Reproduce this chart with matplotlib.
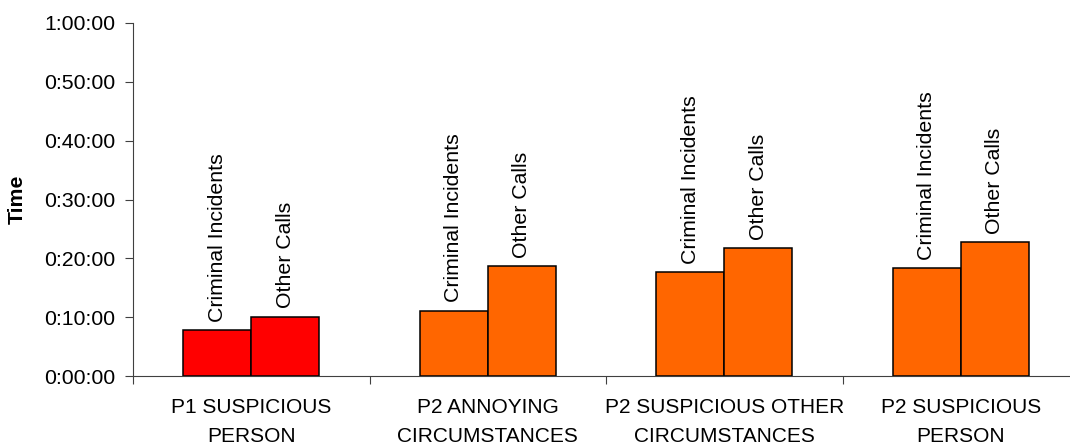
import matplotlib.pyplot as plt
from matplotlib.ticker import FuncFormatter, FixedLocator

plt.rcParams['font.family'] = ['Liberation Sans', 'DejaVu Sans']

# Data (minutes)
categories = ["P1 SUSPICIOUS\nPERSON", "P2 ANNOYING\nCIRCUMSTANCES",
              "P2 SUSPICIOUS OTHER\nCIRCUMSTANCES", "P2 SUSPICIOUS\nPERSON"]
criminal = [7.8, 11.1, 17.6, 18.3]
other = [10.1, 18.7, 21.7, 22.7]
bar_colors = ["#FF0000", "#FF6600", "#FF6600", "#FF6600"]
series_labels = ["Criminal Incidents", "Other Calls"]

fig = plt.figure(figsize=(10.7, 4.45), dpi=100)
ax = fig.add_axes([133 / 1070, 69 / 445, 946 / 1070, 353 / 445])

x = list(range(len(categories)))
w = 0.287
b1 = ax.bar([i - w / 2 for i in x], criminal, w, color=bar_colors,
            edgecolor="black", linewidth=1.1)
b2 = ax.bar([i + w / 2 for i in x], other, w, color=bar_colors,
            edgecolor="black", linewidth=1.1)

# rotated series labels above bars
for bars, name in zip([b1, b2], series_labels):
    for r in bars:
        ax.annotate(name, (r.get_x() + r.get_width() / 2, r.get_height()),
                    xytext=(0, 6), textcoords="offset points",
                    rotation=90, ha="center", va="bottom", fontsize=15.3)

ax.set_xlim(-0.5, len(categories) - 0.5)
ax.set_ylim(0, 60)
ax.set_yticks(range(0, 61, 10))
ax.yaxis.set_major_formatter(FuncFormatter(
    lambda v, p: "%d:%02d:%02d" % (int(v) // 60, int(v) % 60, 0)))

ax.set_xticks(x)
ax.set_xticklabels(categories, fontsize=15, linespacing=1.65)
ax.xaxis.set_minor_locator(FixedLocator([i - 0.5 for i in range(len(categories) + 1)]))
ax.tick_params(axis="x", which="major", length=0, pad=16)
ax.tick_params(axis="x", which="minor", length=6, width=0.8, color="#404040")
ax.tick_params(axis="y", length=6, width=0.8, color="#404040", pad=7, labelsize=15.3)

for s in ["top", "right"]:
    ax.spines[s].set_visible(False)
for s in ["left", "bottom"]:
    ax.spines[s].set_color("#404040")
    ax.spines[s].set_linewidth(0.8)

ax.set_ylabel("Time", fontsize=15.3, fontweight="bold", labelpad=12)

fig.savefig("out.png", dpi=100)
